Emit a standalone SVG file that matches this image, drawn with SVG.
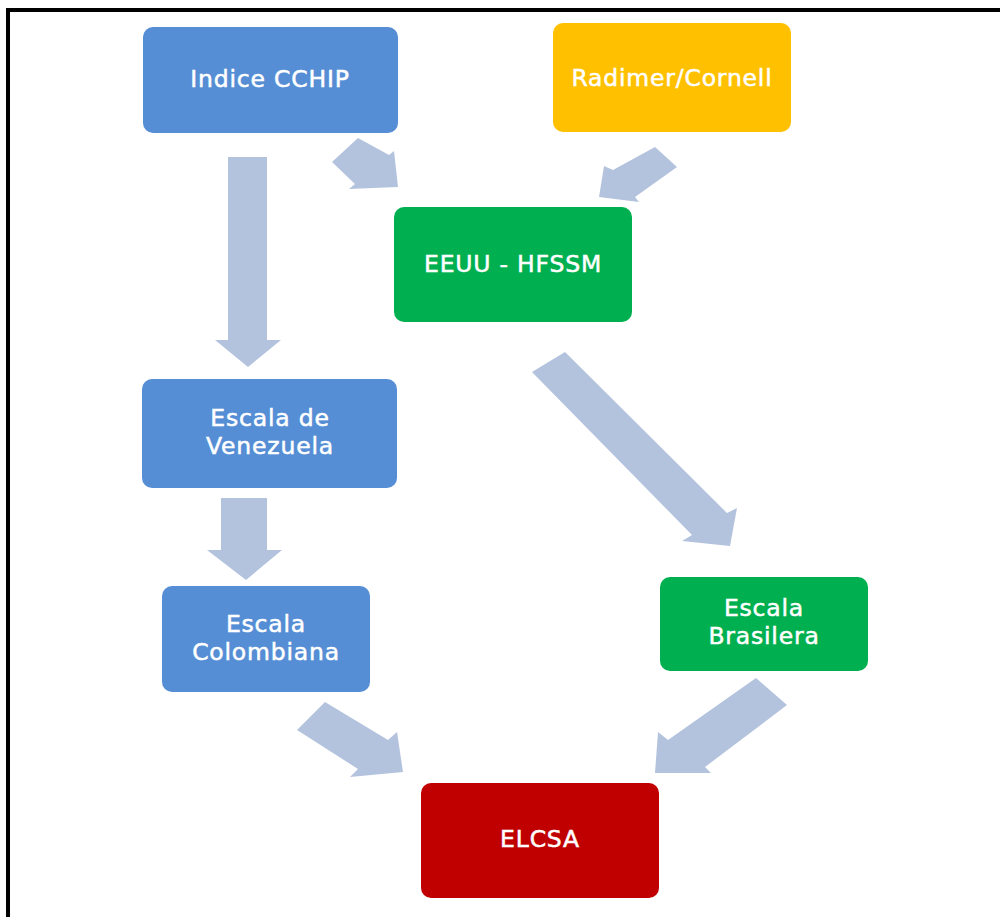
<svg xmlns="http://www.w3.org/2000/svg" width="1000" height="917" viewBox="0 0 1000 917">
<style>
.box{stroke:none}
.blue{fill:#558ED5}
.yellow{fill:#FFC000}
.green{fill:#00B050}
.red{fill:#C00000}
.lbl{font-family:"DejaVu Sans","Liberation Sans",sans-serif;font-size:23.5px;letter-spacing:0.8px;fill:#FFFFFF;text-anchor:middle;stroke:#FFFFFF;stroke-width:0.5}
.arr{fill:#B3C3DE}
.frame{stroke:#000;stroke-width:4;fill:none}
</style>
<rect width="1000" height="917" fill="#FFFFFF"/>
<path class="frame" d="M8 917 V10 H1000"/>
<g id="connectors">
<polygon class="arr" points="228,157 267,157 267,340 281,340 248,367 215,340 228,340"/>
<polygon class="arr" points="221,498 267,498 267,550 282,550 246,580 207,550 221,550"/>
<polygon class="arr" points="332,162 358,138 389,155 394,151 398,187 349,189 355,184"/>
<polygon class="arr" points="655,147 613,170 604,166 599,197 639,202 635,197 677,167"/>
<polygon class="arr" points="532,372 565,352 727,513 737,508 730,546 682,541 692,535"/>
<polygon class="arr" points="297,730 325,702 388,740 397,732 403,772 350,777 358,769"/>
<polygon class="arr" points="756,678 787,705 705,767 711,773 655,773 658,732 668,740"/>
</g>
<g id="indice">
<rect class="box blue" x="143" y="27" width="255" height="106" rx="10"/>
<text class="lbl" x="270" y="87">Indice CCHIP</text>
</g>
<g id="radimer">
<rect class="box yellow" x="553" y="23" width="238" height="109" rx="10"/>
<text class="lbl" x="672" y="86">Radimer/Cornell</text>
</g>
<g id="eeuu">
<rect class="box green" x="394" y="207" width="238" height="115" rx="10"/>
<text class="lbl" x="513" y="272">EEUU - HFSSM</text>
</g>
<g id="venezuela">
<rect class="box blue" x="142" y="379" width="255" height="109" rx="10"/>
<text class="lbl" x="270" y="426">Escala de</text>
<text class="lbl" x="270" y="454">Venezuela</text>
</g>
<g id="colombiana">
<rect class="box blue" x="162" y="586" width="208" height="106" rx="10"/>
<text class="lbl" x="266" y="632">Escala</text>
<text class="lbl" x="266" y="660">Colombiana</text>
</g>
<g id="brasilera">
<rect class="box green" x="660" y="577" width="208" height="94" rx="10"/>
<text class="lbl" x="764" y="616">Escala</text>
<text class="lbl" x="764" y="644">Brasilera</text>
</g>
<g id="elcsa">
<rect class="box red" x="421" y="783" width="238" height="115" rx="10"/>
<text class="lbl" x="540" y="847">ELCSA</text>
</g>
</svg>
